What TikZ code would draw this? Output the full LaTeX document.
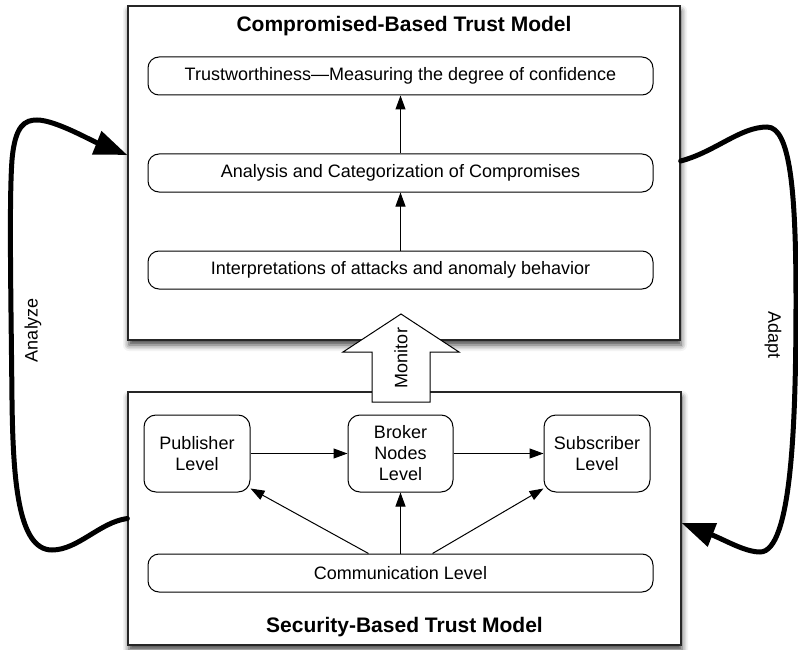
\documentclass[tikz,border=0pt]{standalone}
\usepackage{fontspec}
\setmainfont{Liberation Sans}
\usetikzlibrary{arrows.meta,shadows.blur}
\begin{document}
\begin{tikzpicture}[x=1pt,y=-1pt,
  outer/.style={draw=black!85, line width=1.3pt, fill=white, inner sep=0pt,
    blur shadow={shadow xshift=1pt, shadow yshift=-5pt, shadow blur radius=6pt, shadow opacity=75}},
  pill/.style={draw, line width=1pt, rounded corners=11pt, minimum width=505pt,
    minimum height=38pt, inner sep=0pt, font=\fontsize{18}{21}\selectfont},
  lvl/.style={draw, line width=1pt, rounded corners=12pt, minimum width=106pt,
    minimum height=77pt, inner sep=0pt, align=center, font=\fontsize{18}{21}\selectfont},
  ttl/.style={font=\bfseries\fontsize{21}{24}\selectfont},
  lbl/.style={font=\fontsize{18}{21}\selectfont},
  conn/.style={line width=1pt, -{Triangle[length=14pt,width=10pt]}},
  loopc/.style={line width=5pt, line cap=round, -{Triangle[length=33pt,width=24pt]}}
]
\useasboundingbox (0,0) rectangle (798,650);
\node[outer, minimum width=552pt, minimum height=334pt] (top) at (404,173) {};
\node[outer, minimum width=553pt, minimum height=253pt] (bot) at (404.5,518.5) {};

\node[ttl] (ttop) at (404,26) {Compromised-Based Trust Model};
\node[pill] (trust) at (400.5,76) {Trustworthiness—Measuring the degree of confidence};
\node[pill] (anal) at (400.5,173) {Analysis and Categorization of Compromises};
\node[pill] (interp) at (400.5,270) {Interpretations of attacks and anomaly behavior};
\draw[conn] (anal) -- (trust);
\draw[conn] (interp) -- (anal);

\node[lvl] (pub) at (197,453.5) {Publisher\\Level};
\node[lvl, minimum width=105pt] (brk) at (400.5,453.5) {Broker\\Nodes\\Level};
\node[lvl] (sub) at (597,453.5) {Subscriber\\Level};
\node[pill] (comm) at (400.5,573) {Communication Level};
\node[ttl] (tbot) at (404.5,627) {Security-Based Trust Model};
\draw[conn] (pub) -- (brk);
\draw[conn] (brk) -- (sub);
\draw[conn] ([xshift=-32pt]comm.north) -- ([yshift=4pt]pub.south east);
\draw[conn] (comm) -- (brk);
\draw[conn] ([xshift=32pt]comm.north) -- ([yshift=4pt]sub.south west);

\draw[line width=1pt, fill=white] (372,402) -- (372,352) -- (343,352) -- (401,314)
  -- (459,352) -- (430,352) -- (430,402) -- cycle;
\node[lbl, rotate=90] (mon) at (401,358) {Monitor};

\draw[loopc] (bot.west) .. controls (100,522) and (78,550) .. (52,550)
  .. controls (18,550) and (13,480) .. (12,400)
  .. controls (11,300) and (9,200) .. (12,160)
  .. controls (15,125) and (25,120) .. (37,120)
  .. controls (55,120) and (90,140) .. ([yshift=18pt]top.west);
\draw[loopc] ([yshift=12pt]top.east) .. controls (715,152) and (740,127) .. (767,127)
  .. controls (790,127) and (796,190) .. (796,300)
  .. controls (796,420) and (792,552) .. (760,552)
  .. controls (745,552) and (725,540) .. ([yshift=-4.5pt]bot.east);

\node[lbl, rotate=90] (an) at (33,330) {Analyze};
\node[lbl, rotate=-90] (ad) at (773,335) {Adapt};
\end{tikzpicture}
\end{document}
